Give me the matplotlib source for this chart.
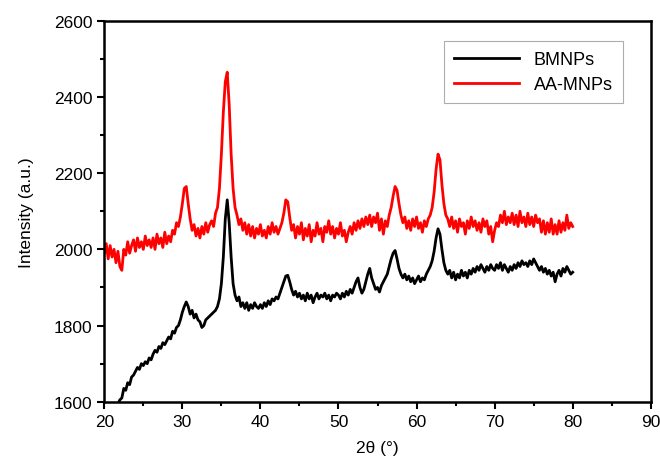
import numpy as np
import matplotlib.pyplot as plt

plt.rcParams['font.family'] = ['Liberation Sans', 'DejaVu Sans']

# 2theta grid, 0.25 deg step from 20 to 80
two_theta = np.arange(20.0, 80.001, 0.25)

aa_mnps = [
    1990, 2015, 1975, 2010, 1980, 2000, 1965, 1995,
    1955, 1945, 2000, 1985, 2020, 1990, 2010, 2025,
    1995, 2030, 2005, 2020, 2000, 2035, 2010, 2025,
    2005, 2030, 2000, 2040, 2015, 2030, 2005, 2045,
    2015, 2035, 2020, 2050, 2040, 2070, 2060, 2085,
    2120, 2160, 2165, 2120, 2080, 2050, 2065, 2035,
    2055, 2030, 2060, 2040, 2070, 2045, 2065, 2075,
    2060, 2095, 2110, 2160, 2250, 2360, 2440, 2465,
    2380, 2250, 2160, 2110, 2090, 2065, 2080, 2050,
    2070, 2040, 2065, 2035, 2060, 2030, 2055, 2040,
    2065, 2035, 2050, 2030, 2060, 2040, 2070, 2045,
    2060, 2040, 2055, 2070, 2095, 2130, 2125, 2085,
    2050, 2065, 2030, 2060, 2040, 2070, 2025, 2055,
    2035, 2065, 2020, 2050, 2035, 2070, 2040, 2055,
    2020, 2060, 2045, 2075, 2040, 2060, 2030, 2055,
    2040, 2070, 2035, 2050, 2020, 2045, 2060, 2040,
    2070, 2050, 2075, 2055, 2080, 2060, 2085, 2065,
    2090, 2060, 2085, 2070, 2095, 2050, 2080, 2040,
    2075, 2060, 2090, 2110, 2140, 2165, 2155, 2120,
    2090, 2070, 2085, 2055, 2075, 2050, 2080, 2060,
    2085, 2055, 2070, 2045, 2075, 2060, 2080, 2090,
    2110, 2150, 2210, 2250, 2235, 2170, 2120, 2090,
    2080, 2060, 2085, 2055, 2075, 2045, 2080, 2060,
    2070, 2040, 2075, 2055, 2085, 2060, 2075, 2050,
    2070, 2045, 2080, 2060, 2075, 2040, 2060, 2020,
    2050, 2070, 2060, 2090, 2070, 2100, 2065, 2085,
    2070, 2095, 2065, 2090, 2060, 2100, 2070, 2085,
    2060, 2095, 2065, 2085, 2060, 2090, 2070, 2080,
    2045, 2075, 2040, 2070, 2045, 2080, 2040, 2065,
    2040, 2075, 2045, 2070, 2050, 2090, 2055, 2070,
    2060,
]

bmnps = [
    1530, 1545, 1540, 1555, 1560, 1570, 1575, 1595,
    1605, 1610, 1635, 1630, 1650, 1645, 1665, 1670,
    1680, 1690, 1685, 1700, 1695, 1705, 1700, 1715,
    1710, 1725, 1735, 1730, 1745, 1740, 1755, 1750,
    1760, 1770, 1765, 1785, 1780, 1795, 1800, 1815,
    1835, 1850, 1862, 1850, 1830, 1840, 1820, 1830,
    1815, 1810, 1795, 1800, 1815, 1820, 1825, 1830,
    1835, 1840, 1850, 1870, 1910, 1980, 2080, 2130,
    2070, 1980, 1910, 1880, 1865, 1875, 1850, 1860,
    1845, 1860, 1840, 1855, 1845, 1860, 1850, 1845,
    1855, 1845, 1860, 1850, 1865, 1855, 1870, 1865,
    1875, 1870, 1885, 1900, 1915, 1930, 1932, 1915,
    1895, 1880, 1890, 1875, 1885, 1870, 1880, 1865,
    1885, 1870, 1880, 1860, 1875, 1885, 1870, 1880,
    1875, 1885, 1870, 1880, 1865, 1880, 1875, 1885,
    1880, 1870, 1885, 1875, 1890, 1880, 1895, 1885,
    1900, 1915, 1925, 1900, 1885, 1895, 1915, 1935,
    1950, 1925, 1910, 1895, 1900, 1888, 1905, 1915,
    1925, 1935, 1955, 1975, 1990, 1997, 1975, 1950,
    1935, 1925, 1935, 1920, 1930, 1915, 1925, 1910,
    1920, 1930, 1915, 1925, 1920, 1935, 1945, 1955,
    1970, 1995, 2030, 2054, 2040, 2000, 1965, 1945,
    1935, 1945, 1925, 1940, 1920, 1935, 1925, 1945,
    1930, 1940, 1925, 1945, 1935, 1950, 1940, 1955,
    1945, 1960, 1950, 1940, 1955, 1945, 1960, 1950,
    1945, 1960, 1950, 1965, 1945, 1960, 1950, 1940,
    1955, 1945, 1960, 1950, 1965, 1955, 1970, 1960,
    1965, 1955, 1970, 1960, 1975, 1965, 1955, 1945,
    1955, 1940, 1950, 1935, 1945, 1930, 1940, 1915,
    1935, 1945, 1930, 1950, 1940, 1955, 1945, 1935,
    1940,
]

fig = plt.figure(figsize=(6.6, 4.64), dpi=100)
ax = fig.add_axes([0.158, 0.132, 0.828, 0.821])

ax.plot(two_theta, bmnps, color='black', lw=2.0, label='BMNPs')
ax.plot(two_theta, aa_mnps, color='red', lw=2.0, label='AA-MNPs')

ax.set_xlim(20, 90)
ax.set_ylim(1600, 2600)
ax.set_xticks(np.arange(20, 91, 10))
ax.set_xticks(np.arange(25, 90, 10), minor=True)
ax.set_yticks(np.arange(1600, 2601, 200))
ax.set_yticks(np.arange(1700, 2600, 200), minor=True)
ax.tick_params(which='major', direction='out', length=5, width=1.5, labelsize=12.5)
ax.tick_params(which='minor', direction='out', length=3, width=1.5)
for s in ax.spines.values():
    s.set_linewidth(1.8)

ax.set_xlabel('2θ (°)', fontsize=12.5, labelpad=8)
ax.set_ylabel('Intensity (a.u.)', fontsize=12.5, labelpad=14)

leg = ax.legend(loc='upper right', bbox_to_anchor=(0.965, 0.97), fontsize=13,
                handlelength=3.6, handletextpad=0.8, frameon=True, fancybox=False,
                borderpad=0.55, labelspacing=0.45, edgecolor='#999999')
leg.get_frame().set_linewidth(0.8)

plt.savefig('out.png', dpi=100)
